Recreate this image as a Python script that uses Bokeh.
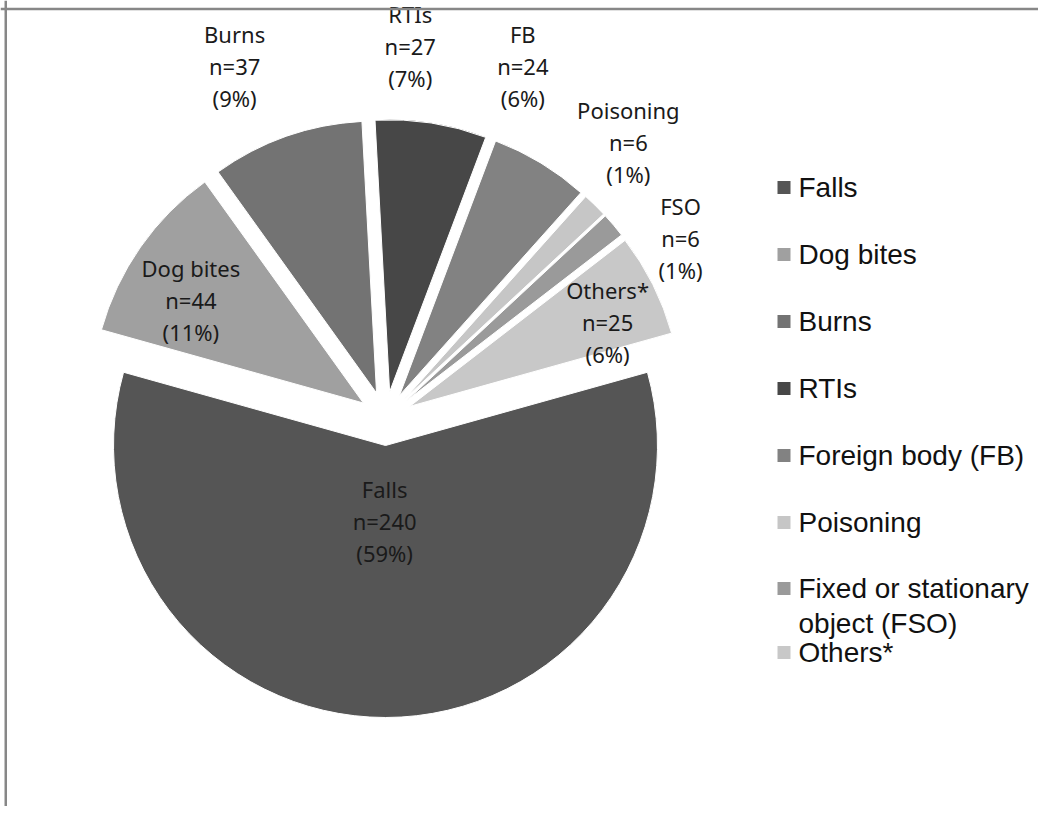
import math
from bokeh.plotting import figure
from bokeh.models import Range1d, ColumnDataSource, Span
from bokeh.embed import file_html
from bokeh.resources import INLINE
from bokeh.core.properties import value

# ---------------- data ----------------
categories = ["Falls", "Dog bites", "Burns", "RTIs", "FB", "Poisoning", "FSO", "Others*"]
legend_names = ["Falls", "Dog bites", "Burns", "RTIs", "Foreign body (FB)", "Poisoning",
                "Fixed or stationary\nobject (FSO)", "Others*"]
counts = [240, 44, 37, 27, 24, 6, 6, 25]
colors = ["#555555", "#a0a0a0", "#737373", "#474747", "#828282", "#c6c6c6", "#9a9a9a", "#c8c8c8"]

# ---------------- layout (screen pixels) ----------------
PAGE_H = 822
W, H = 1038, 806
def sy(y):  # screen y -> data y (y up)
    return PAGE_H - y

CX, CY = 385, sy(418)
R = 272
EXPLODE = 27
# label anchor (polar, relative to pie centre): radius, angle in degrees
label_r = [103, 228, 383, 373, 378, 368, 346, 242]
label_ang = [-90.5, 148.6, 113.2, 86.2, 68.7, 48.7, 31.5, 23.4]
LINE_STEP = 32
legend_y = [187, 254, 321, 388, 455, 522, 588, 652]
LEG_SW_X, LEG_TX_X, LEG_STEP = 783.5, 798, 35

total = sum(counts)
fracs = [c / total for c in counts]
pcts = [round(100 * f) for f in fracs]

# angles: clockwise from Falls centred at bottom
start = -90 + 180 * fracs[0]
xs, ys, sa, ea = [], [], [], []
cum = 0.0
for f in fracs:
    hi = start - cum * 360
    lo = hi - f * 360
    mid = math.radians((hi + lo) / 2)
    xs.append(CX + EXPLODE * math.cos(mid))
    ys.append(CY + EXPLODE * math.sin(mid))
    sa.append(math.radians(lo))
    ea.append(math.radians(hi))
    cum += f

src = ColumnDataSource(dict(x=xs, y=ys, sa=sa, ea=ea, color=colors))

p = figure(width=W, height=H, output_backend="svg", toolbar_location=None, title=None,
           x_range=Range1d(0, W), y_range=Range1d(sy(H), sy(0)),
           min_border=0)
p.axis.visible = False
p.grid.visible = False
p.outline_line_color = None
p.background_fill_color = "white"

# frame lines (top and left)
p.add_layout(Span(location=sy(8.5), dimension="width", line_color="#878787", line_width=2.5))
p.add_layout(Span(location=5.25, dimension="height", line_color="#878787", line_width=2.5))

p.wedge(x="x", y="y", radius=R, start_angle="sa", end_angle="ea",
        fill_color="color", line_color="white", line_width=1, source=src)

# slice labels
lx, ly, lt = [], [], []
for i, name in enumerate(categories):
    a = math.radians(label_ang[i])
    cxl = CX + label_r[i] * math.cos(a)
    cyl = CY + label_r[i] * math.sin(a)
    lines = [name, f"n={counts[i]}", f"({pcts[i]}%)"]
    for k, t in enumerate(lines):
        lx.append(cxl)
        ly.append(cyl + (1 - k) * LINE_STEP)
        lt.append(t)
p.text(x=lx, y=ly, text=lt, text_align="center", text_baseline="middle",
       text_font=value("Noto Sans"), text_font_size="22px", text_color="#1a1a1a")

# legend
p.rect(x=[LEG_SW_X] * len(colors), y=[sy(v) for v in legend_y], width=13, height=13,
       width_units="screen", height_units="screen", fill_color=colors, line_color=None)
tx, ty, tt = [], [], []
for i, nm in enumerate(legend_names):
    for k, t in enumerate(nm.split("\n")):
        tx.append(LEG_TX_X)
        ty.append(sy(legend_y[i] + k * LEG_STEP))
        tt.append(t)
p.text(x=tx, y=ty, text=tt, text_align="left", text_baseline="middle",
       text_font=value("Liberation Sans"), text_font_size="28px", text_color="#111111")

open("out.html", "w").write(file_html(p, INLINE))
